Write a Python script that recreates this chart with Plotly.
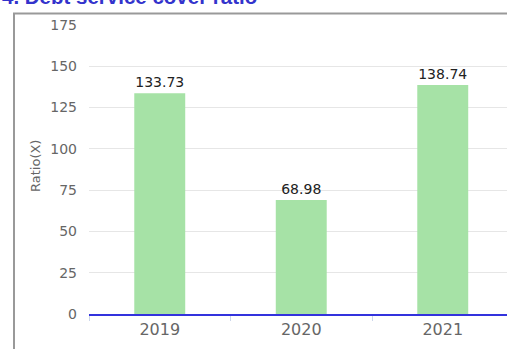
import plotly.graph_objects as go

categories = ["2019", "2020", "2021"]
ratios = [133.73, 68.98, 138.74]
y_ticks = [0, 25, 50, 75, 100, 125, 150, 175]

W, H = 507, 349
ML, MR, MT, MB = 89, 0, 25, 35
pw = W - ML - MR
ph = H - MT - MB

def px_x(px):
    return (px - ML) / pw

def px_y(py):
    return (H - MB - py) / ph

fig = go.Figure()
fig.add_trace(go.Bar(
    x=categories, y=ratios,
    marker=dict(color="#a6e2a6", line=dict(width=0)),
    width=0.36,
    text=[f"{v:.2f}" for v in ratios],
    textposition="outside",
    textfont=dict(family="DejaVu Sans", size=14, color="#222222"),
    cliponaxis=False,
    hoverinfo="skip",
))

fig.update_layout(
    width=W, height=H,
    margin=dict(l=ML, r=MR, t=MT, b=MB, pad=0),
    paper_bgcolor="white", plot_bgcolor="white",
    showlegend=False,
    font=dict(family="DejaVu Sans", color="#666666"),
    xaxis=dict(
        type="category",
        range=[-0.5, -0.5 + pw / 141.5],
        showgrid=False,
        showline=True, linecolor="#3333dd", linewidth=2,
        layer="below traces",
        ticks="outside", tickson="boundaries", ticklen=5, tickcolor="#ccd6eb",
        tickfont=dict(size=16, color="#666666"),
        fixedrange=True,
    ),
    yaxis=dict(
        range=[0, 175],
        tickvals=y_ticks,
        showgrid=True, gridcolor="#e6e6e6", gridwidth=1,
        zeroline=False, showline=False,
        tickfont=dict(size=14, color="#666666"),
        ticklabelstandoff=11,
        fixedrange=True,
    ),
    shapes=[dict(
        type="rect", xref="paper", yref="paper",
        x0=px_x(14), x1=1.2, y0=px_y(13.5), y1=-0.5,
        line=dict(color="#999999", width=2), fillcolor="rgba(0,0,0,0)",
        layer="above",
    )],
    annotations=[
        dict(text="<b>4. Debt service cover ratio</b>", xref="paper", yref="paper",
             x=px_x(0), y=px_y(10), xanchor="left", yanchor="bottom", showarrow=False,
             font=dict(family="Liberation Sans", size=20.5, color="#3333cc")),
        dict(text="Ratio(X)", xref="paper", yref="paper",
             x=px_x(35), y=px_y(166), xanchor="center", yanchor="middle",
             textangle=-90, showarrow=False,
             font=dict(family="DejaVu Sans", size=13, color="#666666")),
    ],
)

fig.write_html(
    "out.html",
    config={"displayModeBar": False},
    post_script="document.body.style.margin='0';document.body.style.overflow='hidden';",
)
